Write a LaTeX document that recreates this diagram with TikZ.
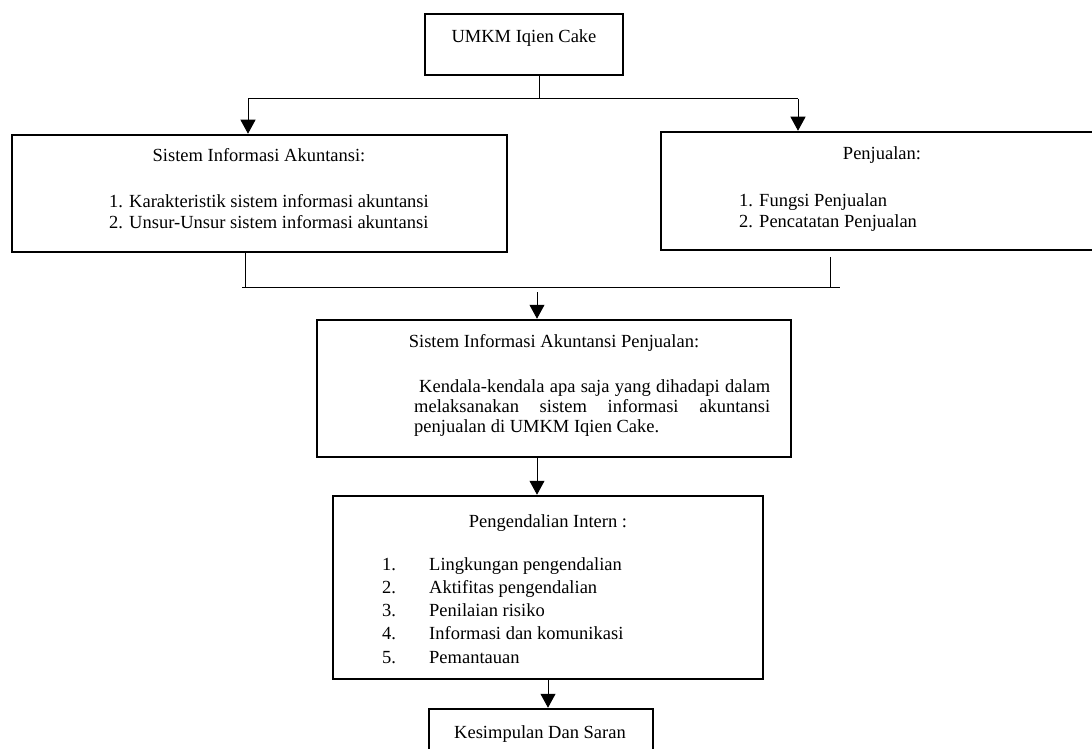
\documentclass[tikz,border=0pt]{standalone}
\usepackage{fontspec}
\setmainfont{Liberation Serif}
\usetikzlibrary{arrows.meta}
\tikzset{
  box/.style={draw, line width=2.5pt, rectangle, inner sep=0pt},
  conn/.style={line width=1pt},
  arr/.style={line width=1pt, -{Triangle[length=14pt,width=15pt]}},
  txt/.style={inner sep=0pt, font=\fontsize{18.5}{20}\selectfont},
}
\begin{document}
\begin{tikzpicture}[x=1pt,y=-1pt]
\useasboundingbox (0,0) rectangle (1092,749);
% boxes
\node[box, minimum width=198pt, minimum height=61pt] (top) at (524,44.5) {};
\node[box, minimum width=495pt, minimum height=117pt] (left) at (259.5,193.5) {};
\node[box, minimum width=442pt, minimum height=118pt] (right) at (882,191) {};
\node[box, minimum width=474pt, minimum height=137pt] (mid) at (554,388.5) {};
\node[box, minimum width=430pt, minimum height=183pt] (peng) at (548,587.5) {};
\node[box, minimum width=224pt, minimum height=67pt] (kes) at (541,742.5) {};
% texts
\node[txt, anchor=base] (toptxt) at (524,43) {UMKM Iqien Cake};
\node[txt, anchor=base] (lefttitle) at (259,161) {Sistem Informasi Akuntansi:};
\node[txt, anchor=base west] (leftA) at (109,207) {1. Karakteristik sistem informasi akuntansi};
\node[txt, anchor=base west] (leftB) at (109,228) {2. Unsur-Unsur sistem informasi akuntansi};
\node[txt, anchor=base] (righttitle) at (882,160) {Penjualan:};
\node[txt, anchor=base west] (rightA) at (739,206) {1. Fungsi Penjualan};
\node[txt, anchor=base west] (rightB) at (739,227) {2. Pencatatan Penjualan};
\node[txt, anchor=base] (midtitle) at (554,347) {Sistem Informasi Akuntansi Penjualan:};
\node[txt, anchor=base west] (midA) at (414,392) {\makebox[356pt][s]{\hspace*{5pt}Kendala-kendala apa saja yang dihadapi dalam}};
\node[txt, anchor=base west] (midB) at (414,412) {\makebox[356pt][s]{melaksanakan sistem informasi akuntansi}};
\node[txt, anchor=base west] (midC) at (414,432) {penjualan di UMKM Iqien Cake.};
\node[txt, anchor=base] (pengtitle) at (548,527) {Pengendalian Intern :};
\node[txt, anchor=base west] (pn1) at (382,570) {1.};
\node[txt, anchor=base west] (pt1) at (429,570) {Lingkungan pengendalian};
\node[txt, anchor=base west] (pn2) at (382,593) {2.};
\node[txt, anchor=base west] (pt2) at (429,593) {Aktifitas pengendalian};
\node[txt, anchor=base west] (pn3) at (382,616) {3.};
\node[txt, anchor=base west] (pt3) at (429,616) {Penilaian risiko};
\node[txt, anchor=base west] (pn4) at (382,639) {4.};
\node[txt, anchor=base west] (pt4) at (429,639) {Informasi dan komunikasi};
\node[txt, anchor=base west] (pn5) at (382,663) {5.};
\node[txt, anchor=base west] (pt5) at (429,663) {Pemantauan};
\node[txt, anchor=base] (kestxt) at (540,738) {Kesimpulan Dan Saran};
% junction coordinates
\coordinate (j1) at (539,99);
\coordinate (h1L) at (248,99);
\coordinate (h1R) at (798,99);
\coordinate (l2) at (245,287);
\coordinate (r2) at (830,287);
\coordinate (h2L) at (242,287);
\coordinate (h2R) at (840,287);
\coordinate (m0) at (537,292);
\coordinate (m1) at (537,0);
\coordinate (p1) at (548,0);
% connectors
\draw[conn] (top.south -| j1) -- (j1);
\draw[conn] (h1L) -- (h1R);
\draw[arr] (h1L) -- (h1L |- left.north);
\draw[arr] (h1R) -- (h1R |- right.north);
\draw[conn] (left.south -| l2) -- (l2);
\draw[conn] ([yshift=-6pt]right.south -| r2) -- (r2);
\draw[conn] (h2L) -- (h2R);
\draw[arr] (m0) -- (m0 |- mid.north);
\draw[arr] (mid.south -| m1) -- (peng.north -| m1);
\draw[arr] (peng.south -| p1) -- (kes.north -| p1);
\end{tikzpicture}
\end{document}
